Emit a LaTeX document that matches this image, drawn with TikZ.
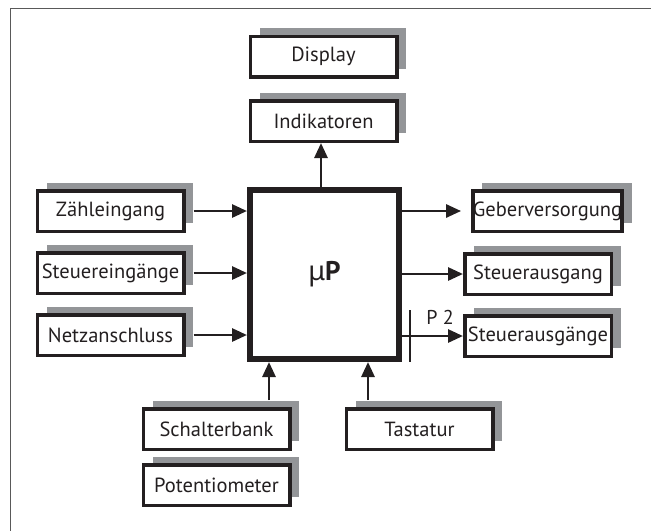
\documentclass[tikz,border=0pt]{standalone}
\usepackage{fontspec}
\setmainfont{PT Sans}
\newfontfamily\greekfont{Noto Sans}
\usetikzlibrary{arrows.meta,shadows}
\definecolor{ink}{HTML}{231F20}
\definecolor{shadowgray}{HTML}{939598}
\tikzset{
  blk/.style={draw=ink, line width=3.5pt, fill=white, text=ink,
    minimum width=146.5pt, minimum height=40.5pt, inner sep=0pt,
    font=\fontsize{20.5}{22}\selectfont,
    drop shadow={shadow xshift=9.5pt, shadow yshift=8pt, fill=shadowgray, opacity=1}},
  mainbox/.style={draw=ink, line width=6pt, fill=white, text=ink,
    minimum width=149pt, minimum height=169pt, inner sep=0pt},
  arr/.style={draw=ink, line width=2.8pt, -{Triangle[length=15pt,width=13pt]}},
  frameline/.style={draw=black!65, line width=1.5pt}
}
\begin{document}
\begin{tikzpicture}[x=1pt,y=-1pt]
\useasboundingbox (0,0) rectangle (651,531);
\coordinate (ftl) at (10.5,8.5);
\coordinate (ftr) at (651,8.5);
\coordinate (fbl) at (10.5,531);
\draw[frameline] (ftr) -- (ftl) -- (fbl);

\node[mainbox] (mp) at (324.5,274.5) {\fontsize{27}{30}\selectfont{\greekfont μ}\textbf{P}};

\node[blk] (disp) at (323.5,56.5) {Display};
\node[blk] (ind) at (323.5,121) {Indikatoren};
\node[blk] (zae) at (110.5,211) {Zähleingang};
\node[blk] (sein) at (110.5,273) {Steuereingänge};
\node[blk] (netz) at (110.5,335) {Netzanschluss};
\node[blk] (geb) at (547.5,211) {Geberversorgung};
\node[blk] (saus) at (538,274) {Steuerausgang};
\node[blk] (sausg) at (538,336) {Steuerausgänge};
\node[blk] (sch) at (216.5,429) {Schalterbank};
\node[blk] (pot) at (216.5,485) {Potentiometer};
\node[blk] (tast) at (419.5,429) {Tastatur};

% arrows
\draw[arr] ([xshift=-3.5pt]mp.north) -- ([xshift=-3.5pt]mp.north |- ind.south);
\draw[arr] ([xshift=8pt]zae.east) -- (mp.west |- zae.east);
\draw[arr] ([xshift=8pt]sein.east) -- (mp.west |- sein.east);
\draw[arr] ([xshift=8pt]netz.east) -- (mp.west |- netz.east);
\draw[arr] (mp.east |- geb.west) -- ([xshift=-10pt]geb.west);
\draw[arr] (mp.east |- saus.west) -- (saus.west);
\draw[arr] (mp.east |- sausg.west) -- (sausg.west);
\draw[arr] ([yshift=7pt]sch.north -| 269,0) -- (269,0 |- mp.south);
\draw[arr] ([yshift=7pt]tast.north -| 368,0) -- (368,0 |- mp.south);

% P2 marker
\coordinate (p2a) at (410,310);
\coordinate (p2b) at (410,362);
\draw[draw=ink, line width=2pt] (p2a) -- (p2b);
\node[text=ink, font=\fontsize{20}{22}\selectfont, inner sep=0pt] (p2) at (440,317) {P 2};
\end{tikzpicture}
\end{document}
